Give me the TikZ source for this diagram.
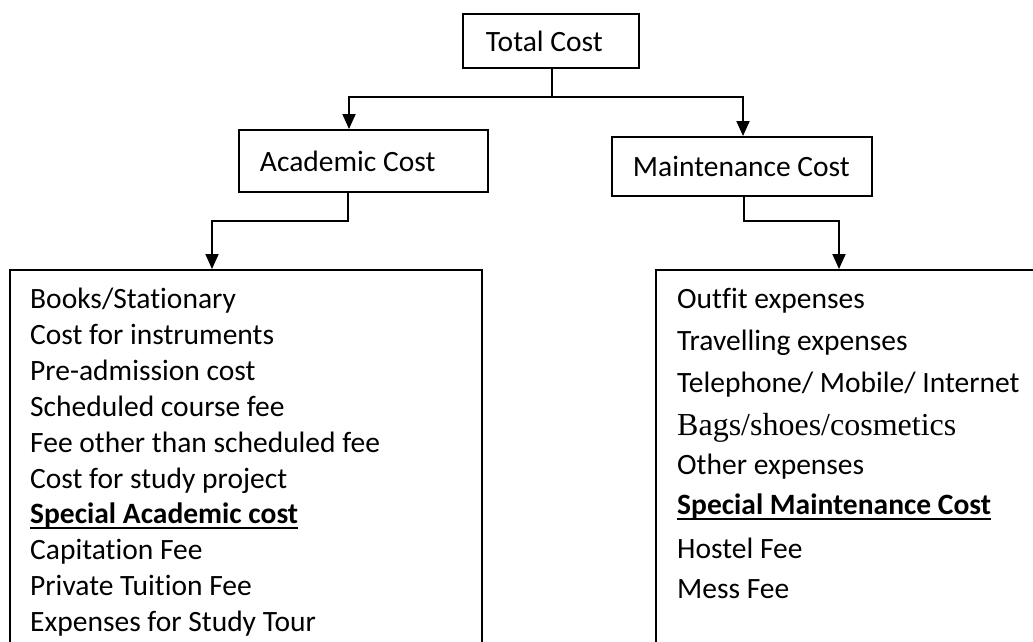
\documentclass[tikz,border=0pt]{standalone}
\usepackage{fontspec}
\setmainfont[Ligatures=NoCommon]{Carlito}
\newfontfamily\timesf{Liberation Serif}
\usetikzlibrary{arrows.meta}
\newcommand\myul[1]{\setbox0\hbox{#1}\rlap{\rule[-6pt]{\wd0}{1.8pt}}\box0}
\begin{document}
\begin{tikzpicture}[x=1pt,y=-1pt,
  every node/.style={font=\fontsize{29.5}{35}\selectfont},
  headbox/.style={draw, line width=1.9pt, anchor=north west, inner ysep=0pt},
  listbox/.style={draw, line width=1.9pt, anchor=north west, inner sep=0pt},
  item/.style={anchor=base west, inner sep=0pt},
  conn/.style={line width=1.9pt},
  arr/.style={conn, -{Triangle[width=13pt,length=15pt]}}]
\useasboundingbox (0,0) rectangle (1033,641);
\clip (0,0) rectangle (1033,641);
% header boxes
\node[headbox, inner xsep=23pt, minimum height=54pt] (total) at (462,13) {\makebox[130pt][l]{Total Cost}};
\node[headbox, inner xsep=21pt, minimum height=62pt] (acad) at (238,129) {\makebox[207pt][l]{Academic Cost}};
\node[headbox, inner xsep=21pt, minimum height=59pt] (maint) at (611,136) {\makebox[218pt][l]{Maintenance Cost}};
% list boxes
\node[listbox, minimum width=472pt, minimum height=431pt] (acadlist) at (9,269) {};
\node[listbox, minimum width=460pt, minimum height=431pt] (maintlist) at (655,269) {};
% junction coordinates
\coordinate (ja) at (349,97);
\coordinate (jm) at (743,97);
\coordinate (a1) at (348,221);
\coordinate (a2) at (212,221);
\coordinate (m1) at (744,221);
\coordinate (m2) at (839,221);
% connectors
\draw[arr] (total.south -| 552,0) |- (ja) -- (ja |- acad.north);
\draw[arr] (total.south -| 552,0) |- (jm) -- (jm |- maint.north);
\draw[arr] (a1 |- acad.south) -- (a1) -- (a2) -- (a2 |- acadlist.north);
\draw[arr] (m1 |- maint.south) -- (m1) -- (m2) -- (m2 |- maintlist.north);
% academic items
\node[item] (l1) at (30,308) {Books/Stationary};
\node[item] (l2) at (30,344) {Cost for instruments};
\node[item] (l3) at (30,380) {Pre-admission cost};
\node[item] (l4) at (30,416) {Scheduled course fee};
\node[item] (l5) at (30,452) {Fee other than scheduled fee};
\node[item] (l6) at (30,488) {Cost for study project};
\node[item] (l7) at (30,523) {\myul{\textbf{Special Academic cost}}};
\node[item] (l8) at (30,559) {Capitation Fee};
\node[item] (l9) at (30,595) {Private Tuition Fee};
\node[item] (l10) at (30,631) {Expenses for Study Tour};
% maintenance items
\node[item] (r1) at (677,308) {Outfit expenses};
\node[item] (r2) at (677,350) {Travelling expenses};
\node[item] (r3) at (677,392) {Telephone/ Mobile/ Internet};
\node[item, font=\timesf\fontsize{32}{38}\selectfont] (r4) at (677,435) {Bags/shoes/cosmetics};
\node[item] (r5) at (677,474) {Other expenses};
\node[item] (r6) at (677,514) {\myul{\textbf{Special Maintenance Cost}}};
\node[item] (r7) at (677,558) {Hostel Fee};
\node[item] (r8) at (677,598) {Mess Fee};
\end{tikzpicture}
\end{document}
